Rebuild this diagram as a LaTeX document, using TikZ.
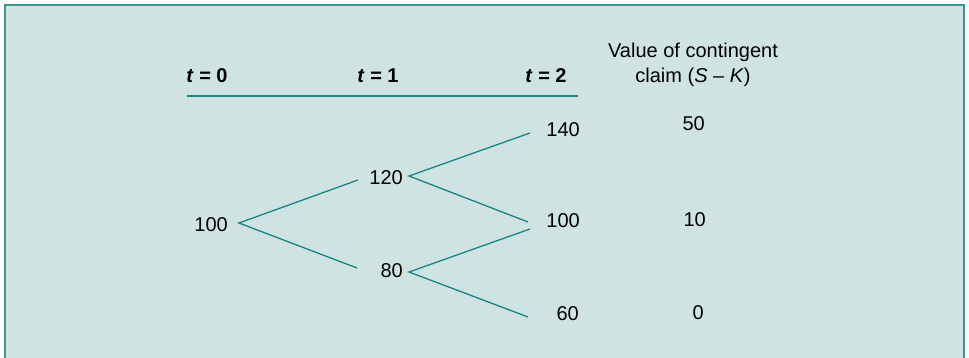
\documentclass[tikz,border=0pt]{standalone}
\usepackage{fontspec}
\setmainfont{Liberation Sans}
\definecolor{panel}{HTML}{D0E3E3}
\definecolor{frame}{HTML}{3E9595}
\definecolor{teal1}{HTML}{1A8484}
\begin{document}
\begin{tikzpicture}[x=1pt,y=-1pt,
  num/.style={anchor=east,inner sep=0pt,font=\fontsize{20}{24}\selectfont},
  hdr/.style={inner sep=0pt,font=\fontsize{20}{24}\selectfont\bfseries},
  branch/.style={draw=teal1,line width=1.3pt}]
\useasboundingbox (0,0) rectangle (969,358);
\fill[white] (0,0) rectangle (969,358);
\fill[panel] (5,5) rectangle (964,358);
\draw[frame,line width=1.6pt] (5,358) -- (5,5) -- (964,5) -- (964,358);
% headers
\node[hdr] (h0) at (207,76) {\textit{t} = 0};
\node[hdr] (h1) at (378,76) {\textit{t} = 1};
\node[hdr] (h2) at (546,76) {\textit{t} = 2};
\coordinate (rl) at (187,96);
\coordinate (rr) at (578,96);
\draw[teal1,line width=1.3pt] (rl) -- (rr);
\node[align=center,inner sep=0pt,font=\fontsize{20}{25}\selectfont] (vh) at (693,65)
  {Value of contingent\\claim (\textit{S} – \textit{K})};
% tree values
\node[num] (n0) at (228,225) {100};
\node[num] (n1u) at (403,178) {120};
\node[num] (n1d) at (403,271) {80};
\node[num] (n2u) at (580,130) {140};
\node[num] (n2m) at (580,221) {100};
\node[num] (n2d) at (579,314) {60};
\node[num] (p1) at (705,124) {50};
\node[num] (p2) at (706,220) {10};
\node[num] (p3) at (704,313) {0};
% branch points
\coordinate (v0) at (239,223);
\coordinate (a1) at (358,180);
\coordinate (b1) at (357,268);
\coordinate (v1) at (409,176);
\coordinate (v2) at (409,272);
\coordinate (c1) at (530,133);
\coordinate (c2u) at (528,222);
\coordinate (c2l) at (530,229);
\coordinate (c3) at (528,317);
\draw[branch] (a1) -- (v0) -- (b1);
\draw[branch] (c1) -- (v1) -- (c2u);
\draw[branch] (c2l) -- (v2) -- (c3);
\end{tikzpicture}
\end{document}
